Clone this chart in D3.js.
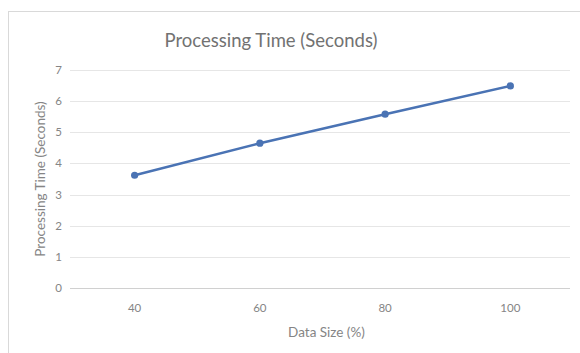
<!DOCTYPE html>
<html>
<head>
<meta charset="utf-8">
<script src="https://cdn.jsdelivr.net/npm/d3@7"></script>
<style>
  html, body { margin: 0; padding: 0; background: #ffffff; }
  svg { display: block; font-family: Lato, "Open Sans", sans-serif; }
</style>
</head>
<body>
<svg id="chart" width="580" height="353"></svg>
<script>
// Processing time by data size
const categories = ["40", "60", "80", "100"];
const seconds = [3.62, 4.65, 5.58, 6.49];
const yTicks = [0, 1, 2, 3, 4, 5, 6, 7];

const titleText = "Processing Time (Seconds)";
const xTitle = "Data Size (%)";
const yTitle = "Processing Time (Seconds)";

const svg = d3.select("#chart");
const W = 580, H = 353;
const plot = { left: 72, right: 573, top: 70, bottom: 288 };

// chart frame
svg.append("rect")
  .attr("x", 8.5).attr("y", 11.5)
  .attr("width", W + 20).attr("height", H + 20)
  .attr("fill", "#ffffff")
  .attr("stroke", "#d9d9d9").attr("stroke-width", 1);

const x = d3.scaleBand().domain(categories).range([plot.left, plot.right]);
const y = d3.scaleLinear().domain([0, 7]).range([plot.bottom, plot.top]);

// horizontal gridlines
svg.append("g")
  .selectAll("line")
  .data(yTicks)
  .join("line")
  .attr("x1", plot.left - 2).attr("x2", plot.right - 3)
  .attr("y1", d => Math.round(y(d)) + 0.5)
  .attr("y2", d => Math.round(y(d)) + 0.5)
  .attr("stroke", d => d === 0 ? "#d0d0d0" : "#e6e6e6")
  .attr("stroke-width", 1);

// y tick labels
svg.append("g")
  .selectAll("text")
  .data(yTicks)
  .join("text")
  .attr("x", 62)
  .attr("y", d => y(d))
  .attr("dy", "0.35em")
  .attr("text-anchor", "end")
  .attr("font-size", 11.5)
  .attr("fill", "#858585")
  .text(d => d);

// x tick labels
svg.append("g")
  .selectAll("text")
  .data(categories)
  .join("text")
  .attr("x", d => x(d) + x.bandwidth() / 2)
  .attr("y", 308)
  .attr("dy", "0.35em")
  .attr("text-anchor", "middle")
  .attr("font-size", 11.5)
  .attr("fill", "#858585")
  .text(d => d);

// chart title
svg.append("text")
  .attr("x", 271).attr("y", 47)
  .attr("text-anchor", "middle")
  .attr("font-size", 18.5)
  .attr("font-weight", 400)
  .attr("fill", "#727272")
  .text(titleText);

// axis titles
svg.append("text")
  .attr("x", (plot.left + plot.right) / 2 + 4).attr("y", 332)
  .attr("dy", "0.35em")
  .attr("text-anchor", "middle")
  .attr("font-size", 13.5)
  .attr("fill", "#858585")
  .text(xTitle);

svg.append("text")
  .attr("transform", `translate(40,${(plot.top + plot.bottom) / 2}) rotate(-90)`)
  .attr("dy", "0.35em")
  .attr("text-anchor", "middle")
  .attr("font-size", 13.5)
  .attr("fill", "#858585")
  .text(yTitle);

// series line and markers
const pts = categories.map((c, i) => ({ c, v: seconds[i] }));
const line = d3.line()
  .x(d => x(d.c) + x.bandwidth() / 2)
  .y(d => y(d.v));

svg.append("path")
  .datum(pts)
  .attr("d", line)
  .attr("fill", "none")
  .attr("stroke", "#4a73b4")
  .attr("stroke-width", 2.5)
  .attr("stroke-linecap", "round");

svg.append("g")
  .selectAll("circle")
  .data(pts)
  .join("circle")
  .attr("cx", d => x(d.c) + x.bandwidth() / 2)
  .attr("cy", d => y(d.v))
  .attr("r", 3.6)
  .attr("fill", "#4a73b4");
</script>
</body>
</html>
